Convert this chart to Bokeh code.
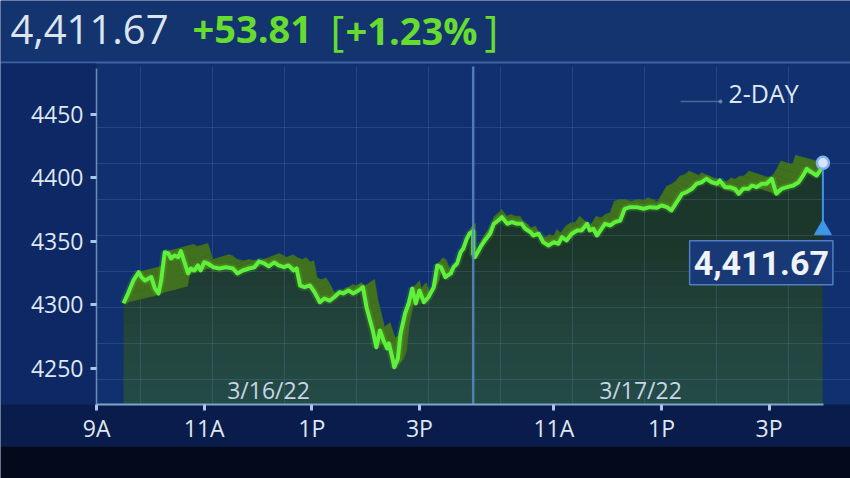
import numpy as np
from bokeh.plotting import figure
from bokeh.models import Range1d, FixedTicker, Label, BoxAnnotation
from bokeh.core.properties import value
from bokeh.embed import file_html
from bokeh.resources import INLINE

# ---------------- data ----------------
day1_minutes = [0, 5, 11, 17, 20, 24, 28, 31, 35, 39, 42, 46, 50, 53, 57, 61, 64, 68, 72, 75,
                79, 83, 86, 90, 94, 100, 107, 114, 122, 127, 133, 140, 146, 151, 157, 162, 168, 173, 179, 184,
                190, 193, 197, 202, 208, 213, 219, 224, 230, 235, 241, 245, 251, 256, 262, 267, 271, 274, 278, 282,
                286, 290, 294, 296, 300, 302, 306, 309, 314, 318, 322, 326, 330, 335, 340, 346, 350, 354, 359, 365,
                368, 372, 376, 379, 383, 386, 390]
day1_values = [4301.3, 4308.9, 4319.2, 4325.7, 4321.8, 4319.2, 4320.7, 4321.8, 4312.9, 4308.9,
               4319.2, 4341.4, 4340.4, 4336.5, 4338.8, 4337.5, 4342.2, 4333.5, 4324.7, 4328.6,
               4327.0, 4331.0, 4327.0, 4333.5, 4332.5, 4329.6, 4328.6, 4329.6, 4328.6, 4324.7,
               4327.0, 4328.6, 4329.6, 4334.3, 4332.5, 4330.2, 4333.3, 4331.0, 4329.6, 4331.0,
               4327.0, 4328.6, 4315.2, 4313.9, 4315.2, 4310.0, 4302.1, 4305.0, 4303.4, 4306.0,
               4310.0, 4309.0, 4311.3, 4309.0, 4311.3, 4313.9, 4298.2, 4290.3, 4279.9, 4266.7,
               4279.9, 4272.0, 4265.7, 4269.7, 4257.9, 4251.0, 4257.9, 4277.5, 4293.2, 4301.1,
               4312.9, 4301.1, 4311.3, 4302.1, 4306.0, 4313.9, 4331.0, 4329.6, 4321.8, 4324.7,
               4329.6, 4332.5, 4341.4, 4344.3, 4352.2, 4356.1, 4357.9]
day2_minutes = [0, 2, 8, 13, 19, 23, 28, 32, 38, 43, 49, 54, 58, 64, 67, 73, 78, 84, 90, 95,
                99, 104, 110, 116, 121, 127, 130, 134, 138, 142, 147, 153, 158, 164, 169, 175, 182, 190, 197, 205,
                210, 216, 221, 227, 233, 238, 244, 249, 255, 260, 266, 272, 275, 281, 286, 292, 296, 301, 307, 311,
                316, 322, 327, 333, 338, 344, 350, 357, 363, 368, 372, 377, 383, 387, 390]
day2_values = [4340.0, 4337.5, 4345.3, 4350.6, 4356.1, 4363.7, 4366.3, 4368.9, 4363.7, 4365.0,
               4363.7, 4363.7, 4359.8, 4357.1, 4354.5, 4355.9, 4349.3, 4346.7, 4349.3, 4348.0,
               4353.2, 4350.6, 4355.9, 4358.5, 4358.5, 4363.7, 4358.5, 4359.8, 4354.5, 4358.5,
               4363.7, 4362.4, 4365.0, 4366.3, 4375.5, 4376.8, 4376.8, 4375.5, 4376.8, 4376.3,
               4378.1, 4376.8, 4374.2, 4380.7, 4387.3, 4388.6, 4391.2, 4395.2, 4396.4, 4399.1,
               4396.4, 4395.2, 4397.8, 4392.5, 4392.5, 4391.2, 4387.3, 4391.2, 4391.2, 4393.8,
               4392.5, 4395.2, 4395.2, 4399.1, 4387.3, 4391.2, 4392.5, 4393.8, 4396.4, 4401.7,
               4406.9, 4404.3, 4401.7, 4405.6, 4411.67]
session_dates = ["3/16/22", "3/17/22"]
last_price = 4411.67
net_change = 53.81
pct_change = 1.23
period_label = "2-DAY"
y_ticks = [4250, 4300, 4350, 4400, 4450]
x_tick_hours = [9, 11, 13, 15, 11, 13, 15]
x_tick_days = [0, 0, 0, 0, 1, 1, 1]
x_tick_labels = ["9A", "11A", "1P", "3P", "11A", "1P", "3P"]

SESSION_H = 6.5  # 9:30 -> 16:00
t = np.array([m / 60 for m in day1_minutes] + [SESSION_H + m / 60 for m in day2_minutes])
v = np.array(day1_values + day2_values)
x_ticks = [d * SESSION_H + (h - 9.5) for h, d in zip(x_tick_hours, x_tick_days)]

# ---------------- layout helpers: canvas pixel -> data ----------------
W, H = 850, 478
PX_PER_H = 53.8
X0PX = 123.0
PX_PER_PT = 1.2725
Y0PX = 368.0


def X(px):
    return (px - X0PX) / PX_PER_H


def Y(py):
    return 4250 + (Y0PX - py) / PX_PER_PT


FONT = "Open Sans"
TXT = "#dfe7f1"
GREEN = "#66dd2e"

p = figure(width=W, height=H, output_backend="svg", toolbar_location=None,
           x_range=Range1d(X(0), X(W)), y_range=Range1d(Y(H), Y(0)),
           min_border=0, background_fill_color="#10306f", border_fill_color="#10306f")
p.outline_line_color = None
p.xgrid.visible = False
p.ygrid.visible = False

CH_L, CH_R, CH_T, CH_B = X(96), X(W), Y(66), Y(404)   # chart rectangle
bottom = CH_B


def band(l, r, top, bot, color):
    p.add_layout(BoxAnnotation(left=X(l), right=X(r), top=Y(top), bottom=Y(bot), fill_color=color,
                               fill_alpha=1, line_color=None, level="underlay"))


band(0, W, 0, 61, "#143470")
band(0, W, 61, 63, "#3d62a2")
band(0, 96, 63, 404, "#0d2864")
band(0, W, 404, 446, "#0a1c4b")
band(0, W, 446, H, "#030a1b")

# area fill under the line (dark green fading to teal at the bottom)
p.varea(x=t, y1=bottom, y2=v, fill_color="#1b362a", fill_alpha=1)
for lev in np.arange(4345, 4220, -10):
    p.varea(x=t, y1=bottom, y2=np.minimum(v, lev), fill_color="#2f6e66", fill_alpha=0.06)

# decorative grid
gx = [X(140 + 72 * k) for k in range(10)]
gy = [Y(127 + 36 * k) for k in range(8)]
p.multi_line(xs=[[g, g] for g in gx], ys=[[CH_B, CH_T]] * len(gx),
             line_color="#7fa0e0", line_alpha=0.18, line_width=1)
p.multi_line(xs=[[CH_L, CH_R]] * len(gy), ys=[[g, g] for g in gy],
             line_color="#7fa0e0", line_alpha=0.18, line_width=1)

# 3D ribbon behind the line
k = 0.085
tc = X(500)
ts = t + k * (tc - t)
vs = v + 6.0
xs = [[t[i], t[i + 1], ts[i + 1], ts[i]] for i in range(len(t) - 1)]
ys = [[v[i], v[i + 1], vs[i + 1], vs[i]] for i in range(len(t) - 1)]
p.patches(xs, ys, fill_color="#41701e", fill_alpha=1, line_color="#41701e", line_width=0.5)

# the line
p.line(t, v, line_color=GREEN, line_width=8, line_alpha=0.18)
p.line(t, v, line_color="#5ef03a", line_width=4, line_join="round")

# day divider
p.segment(x0=SESSION_H, y0=CH_B, x1=SESSION_H, y1=CH_T, line_color="#5b88c9", line_width=2.5,
          line_alpha=0.85)

# date labels
p.text(x=[X(268), X(640)], y=[Y(389)] * 2, text=session_dates, text_align="center",
       text_baseline="middle", text_font=value(FONT), text_font_size="23px", text_color="#c8d5e6")

# 2-DAY legend
p.segment(x0=X(680), y0=Y(101), x1=X(720), y1=Y(101), line_color="#4a6898", line_width=1.5)
p.scatter(x=[X(720)], y=[Y(101)], size=3, color="#6b88b8")
p.add_layout(Label(x=X(728), y=Y(92), text=period_label, text_font=FONT, text_font_size="25px",
                   text_color=TXT, text_baseline="middle"))

# last price marker + callout
tl, vl = t[-1], v[-1]
p.segment(x0=tl, y0=vl, x1=tl, y1=vl - 62 / PX_PER_PT, line_color="#3f95e6", line_width=2)
p.scatter(x=[tl], y=[vl - 67 / PX_PER_PT], marker="triangle", size=17, color="#3f95e6")
p.scatter(x=[tl], y=[vl], size=12, fill_color="#d6e4f5", line_color="#7fb3ea", line_width=2.5)
p.add_layout(Label(x=tl, y=vl, x_offset=10, y_offset=-100, text=f"{last_price:,.2f}",
                   text_font="Roboto", text_font_style="bold", text_font_size="34px",
                   text_color="#eef3f8", text_align="right", text_baseline="middle",
                   background_fill_color="#18397a", background_fill_alpha=0.95,
                   border_line_color="#4f7fc0", border_line_width=1.5, padding=dict(x=4, y=10)))

# header
p.add_layout(Label(x=X(10), y=Y(29), text=f"{last_price:,.2f}", text_font=FONT, text_font_size="40px",
                   text_color="#dce4ee", text_baseline="middle"))
p.add_layout(Label(x=X(192), y=Y(29), text=f"+{net_change:.2f}", text_font=FONT, text_font_style="bold",
                   text_font_size="38px", text_color=GREEN, text_baseline="middle"))
p.add_layout(Label(x=X(330), y=Y(29), text="[", text_font=FONT, text_font_size="42px",
                   text_color=GREEN, text_baseline="middle"))
p.add_layout(Label(x=X(345), y=Y(29), text=f"+{pct_change:.2f}%", text_font=FONT, text_font_style="bold",
                   text_font_size="38px", text_color=GREEN, text_baseline="middle"))
p.add_layout(Label(x=X(484), y=Y(29), text="]", text_font=FONT, text_font_size="42px",
                   text_color=GREEN, text_baseline="middle"))

# axes (placed inside the full-canvas frame)
ya = p.yaxis[0]
ya.fixed_location = CH_L
ya.bounds = (CH_B, Y(68))
ya.ticker = FixedTicker(ticks=y_ticks)
ya.major_label_text_font = FONT
ya.major_label_text_font_size = "23px"
ya.major_label_text_color = TXT
ya.axis_line_color = "#8aa2c8"
ya.axis_line_alpha = 0.8
ya.axis_line_width = 1.5
ya.major_tick_out = 6
ya.major_tick_in = 0
ya.major_tick_line_width = 3
ya.major_tick_line_color = "#a9c6e6"
ya.minor_tick_out = 0
ya.minor_tick_in = 0
ya.major_label_standoff = 7

xa = p.xaxis[0]
xa.fixed_location = CH_B
xa.bounds = (CH_L, X(823))
xa.ticker = FixedTicker(ticks=x_ticks)
xa.major_label_overrides = {float(tk): lab for tk, lab in zip(x_ticks, x_tick_labels)}
xa.major_label_text_font = FONT
xa.major_label_text_font_size = "23px"
xa.major_label_text_color = TXT
xa.axis_line_color = "#7fa5c8"
xa.axis_line_width = 2
xa.major_tick_out = 6
xa.major_tick_in = 0
xa.major_tick_line_width = 3
xa.major_tick_line_color = "#a9c6e6"
xa.minor_tick_out = 0
xa.minor_tick_in = 0
xa.major_label_standoff = 1

open("out.html", "w").write(file_html(p, INLINE))
